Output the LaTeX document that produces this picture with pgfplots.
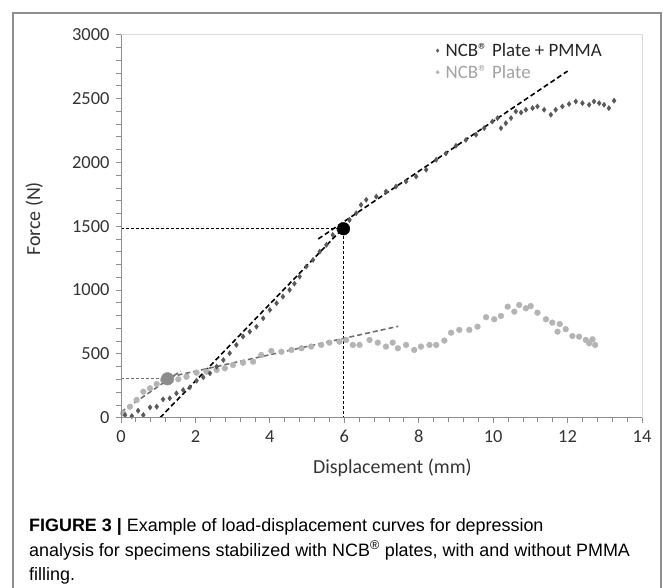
\documentclass[border=0pt]{standalone}
\usepackage{pgfplots}
\pgfplotsset{compat=1.18}
\usepackage{fontspec}
\setmainfont{Liberation Sans}
\newfontfamily\calfont{Carlito}

\definecolor{pmma}{HTML}{595959}
\definecolor{plate}{HTML}{B4B4B4}
\definecolor{platemark}{HTML}{8C8C8C}
\definecolor{platefit}{HTML}{6E6E6E}
\definecolor{axgray}{HTML}{8C8C8C}
\definecolor{boxgray}{HTML}{D9D9D9}
\definecolor{labgray}{HTML}{333333}
\definecolor{framegray}{HTML}{8F8F8F}

% NCB plate + PMMA
\pgfplotstableread{
x y
0.11 21
0.29 13
0.46 55
0.60 21
0.78 81
0.96 86
1.13 144
1.31 152
1.49 191
1.67 217
1.85 238
2.03 290
2.21 317
2.39 348
2.57 400
2.75 452
2.92 505
3.10 570
3.28 635
3.46 674
3.64 713
3.82 779
4.00 844
4.18 897
4.35 948
4.53 1001
4.66 1050
4.80 1105
4.98 1184
5.16 1236
5.34 1301
5.52 1354
5.69 1432
5.85 1470
6.14 1550
6.32 1602
6.45 1667
6.59 1707
6.86 1732
7.12 1772
7.39 1811
7.66 1850
7.93 1889
8.20 1942
8.47 2020
8.73 2070
9.00 2130
9.27 2176
9.54 2216
9.76 2268
9.98 2320
10.12 2347
10.21 2268
10.34 2307
10.48 2347
10.61 2399
10.75 2391
10.88 2412
11.06 2425
11.19 2438
11.37 2412
11.55 2373
11.68 2412
11.86 2438
12.04 2457
12.22 2477
12.40 2464
12.58 2451
12.71 2477
12.85 2464
12.98 2451
13.11 2425
13.25 2483
}\pmmadata

% NCB plate
\pgfplotstableread{
x y
0.06 34
0.24 86
0.42 139
0.60 204
0.78 230
0.96 264
1.13 296
1.54 301
1.76 321
2.03 353
2.30 361
2.57 374
2.79 387
3.01 413
3.28 431
3.55 439
3.77 491
4.04 523
4.31 517
4.58 531
4.85 544
5.11 557
5.38 570
5.60 588
5.87 596
6.05 609
6.23 570
6.41 570
6.68 609
6.90 588
7.12 557
7.30 588
7.44 544
7.66 570
7.88 531
8.06 557
8.29 570
8.47 570
8.69 604
8.87 666
9.09 688
9.36 688
9.58 713
9.81 787
10.03 771
10.21 797
10.39 870
10.57 831
10.70 883
10.88 857
11.01 875
11.19 823
11.42 771
11.59 745
11.73 674
11.79 734
11.95 693
12.13 640
12.31 635
12.49 609
12.58 583
12.67 614
12.74 570
}\platedata

\begin{document}
\begin{tikzpicture}
\draw[framegray, line width=1.5bp] (13bp,-600bp) -- (13bp,-13bp) -- (661bp,-13bp) -- (661bp,-600bp);

\begin{axis}[
  at={(121bp,-417.7bp)}, anchor=south west,
  scale only axis, width=521bp, height=383bp,
  xmin=0, xmax=14, ymin=0, ymax=3000,
  xtick={0,2,...,14}, ytick={0,500,...,3000},
  minor x tick num=4, minor y tick num=4,
  xtick pos=bottom, ytick pos=left,
  tick align=outside, major tick length=5bp, minor tick length=4.5bp,
  every tick/.style={draw=axgray, line width=0.8bp},
  axis line style={draw=boxgray, line width=1bp},
  ticklabel style={font=\calfont\fontsize{18.5}{20}\selectfont, text=labgray},
  yticklabel style={xshift=-3bp},
  xticklabel style={yshift=-4bp},
  /pgf/number format/assume math mode=true,
  /pgf/number format/1000 sep={},
  label style={font=\calfont\fontsize{20}{24}\selectfont, text=labgray},
  xlabel={Displacement (mm)},
  ylabel={Force (N)},
  xlabel style={at={(axis description cs:0.521,-0.1313)}, anchor=center},
  ylabel style={at={(axis description cs:-0.1667,0.519)}, anchor=center},
  legend style={at={(0.592,0.986)}, anchor=north west, draw=none, fill=none,
    font=\calfont\fontsize{19}{22}\selectfont, row sep=3bp, inner sep=1bp},
  legend cell align=left,
  reverse legend,
  legend image code/.code={
    \path[draw=none, fill=none] (0bp,0bp) -- (13bp,0bp);
    \draw[#1, mark size=1.7bp] plot coordinates {(7bp,0bp)};},
  after end axis/.code={
    \draw[axgray, line width=1bp] (rel axis cs:0,1) -- (rel axis cs:0,0) -- (rel axis cs:1,0);
  },
]
\addplot[only marks, color=plate, mark=*, mark size=2.9bp,
  mark options={draw=plate, fill=plate}] table {\platedata};
\addlegendentry{\textcolor{plate!90!black}{NCB® Plate}}
\addplot[only marks, color=pmma, mark=diamond*, mark size=2.6bp,
  mark options={draw=pmma, fill=pmma}] table {\pmmadata};
\addlegendentry{\textcolor{black!85}{NCB® Plate + PMMA}}

% reference lines
\addplot[forget plot, black, line width=0.8bp, dash pattern=on 3bp off 2bp] coordinates {(0,1480) (5.98,1480) (5.98,0)};
\addplot[forget plot, platefit, line width=0.8bp, dash pattern=on 3bp off 2bp] coordinates {(0,305) (1.25,305)};
% fitted slopes
\addplot[forget plot, black, line width=1.6bp, dash pattern=on 5bp off 3bp] coordinates {(1.05,0) (6.15,1540)};
\addplot[forget plot, black, line width=1.6bp, dash pattern=on 5bp off 3bp] coordinates {(5.3,1400) (12.0,2715)};
\addplot[forget plot, platefit, line width=1.6bp, dash pattern=on 5bp off 3bp] coordinates {(0,45) (1.6,365)};
\addplot[forget plot, platefit, line width=1.6bp, dash pattern=on 5bp off 3bp] coordinates {(1.1,306) (7.45,716)};
% yield points
\addplot[forget plot, only marks, mark=*, mark size=6.3bp, color=black, mark options={fill=black}] coordinates {(5.98,1480)};
\addplot[forget plot, only marks, mark=*, mark size=6.3bp, color=platemark, mark options={fill=platemark}] coordinates {(1.25,305)};
\end{axis}

\node[anchor=base west, inner sep=0, font=\fontsize{18}{21}\selectfont] at (29bp,-531bp)
  {\textbf{FIGURE 3 |} Example of load-displacement curves for depression};
\node[anchor=base west, inner sep=0, font=\fontsize{18}{21}\selectfont] at (29bp,-556bp)
  {analysis for specimens stabilized with NCB\textsuperscript{®} plates, with and without PMMA};
\node[anchor=base west, inner sep=0, font=\fontsize{18}{21}\selectfont] at (29bp,-580bp)
  {filling.};

\pgfresetboundingbox
\useasboundingbox (0,0) rectangle (663bp,-588bp);
\end{tikzpicture}
\end{document}
